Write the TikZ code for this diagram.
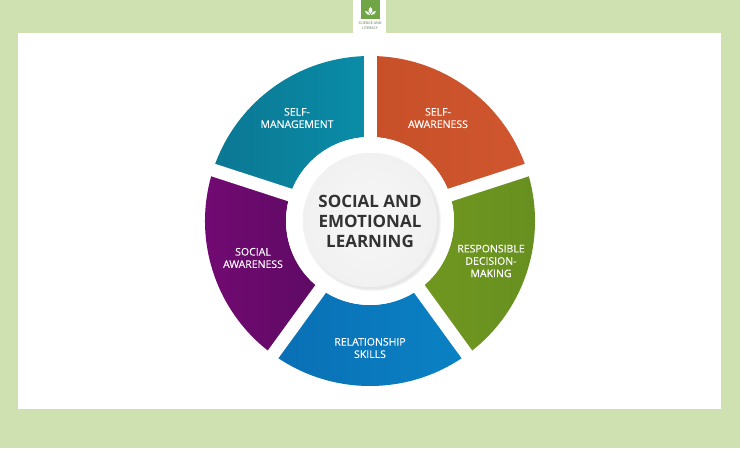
\documentclass[tikz,border=0pt]{standalone}
\usepackage{fontspec}
\setmainfont{Open Sans}
\newfontfamily\seglabelfont[FakeBold=0.2]{Open Sans}
\usetikzlibrary{positioning}
\definecolor{pagegreen}{HTML}{CFE0B1}
\definecolor{leafgreen}{HTML}{6FA544}
\definecolor{logotext}{HTML}{5A6A55}
\definecolor{orangeA}{HTML}{C85029}
\definecolor{orangeB}{HTML}{CF562F}
\definecolor{greenA}{HTML}{70971F}
\definecolor{greenB}{HTML}{668F20}
\definecolor{blueA}{HTML}{0A6FB5}
\definecolor{blueB}{HTML}{0A82C4}
\definecolor{purpleA}{HTML}{740A74}
\definecolor{purpleB}{HTML}{5E0A64}
\definecolor{tealA}{HTML}{0B7793}
\definecolor{tealB}{HTML}{0A8DA8}
\definecolor{discdark}{HTML}{F1F1F1}
\definecolor{disclight}{HTML}{F7F7F7}
\definecolor{titletext}{HTML}{333333}
\tikzset{seglabel/.style={align=center,text=white,font=\seglabelfont\fontsize{10.5}{12.4}\selectfont},
	 titlelabel/.style={align=center,text=titletext,font=\fontsize{17}{20}\selectfont\bfseries},
	 logolabel/.style={align=center,text=logotext,font=\fontsize{3.6}{4.6}\selectfont}
	 }

\begin{document}
\begin{tikzpicture}[x=1pt,y=1pt]
	\useasboundingbox (0,0) rectangle (740,448);
	\fill[pagegreen] (0,0) rectangle (740,448);
	\fill[white] (18,39) rectangle (721,415);
	\fill[white] (353,415) rectangle (386,448);
	\fill[leafgreen] (361,429) rectangle (380,448);
	% logo leaves
	\fill[white] (370.5,441) .. controls (367.5,438) and (368.5,436) .. (370.5,434) .. controls (372.5,436) and (373.5,438) .. (370.5,441);
	\fill[white] (365,437) .. controls (365.5,434) and (367.5,433) .. (370,433) .. controls (369.5,436) and (367.5,437) .. (365,437);
	\fill[white] (376,437) .. controls (375.5,434) and (373.5,433) .. (371,433) .. controls (371.5,436) and (373.5,437) .. (376,437);
	\node[logolabel] (logotxt) at (370,422) {SCIENCE AND\\LITERACY};

	\coordinate (ctr) at (370,227);
	\coordinate (discctr) at (370,228);
	% ring of five parts
	\foreach \from/\to/\ca/\cb in {90/18/orangeA/orangeB,18/-54/greenA/greenB,-54/-126/blueA/blueB,-126/-198/purpleA/purpleB,-198/-270/tealA/tealB}{
		\shade[left color=\ca,right color=\cb] ([shift={(ctr)}]\from:165) arc[start angle=\from,end angle=\to,radius=165pt] -- ([shift={(ctr)}]\to:84) arc[start angle=\to,end angle=\from,radius=84pt] -- cycle;
	}
	% gaps
	\foreach \ang in {90,18,-54,-126,162}{
		\draw[white,line width=13pt] (ctr) -- ([shift={(ctr)}]\ang:172);
	}
	\fill[white] (ctr) circle (84);
	% soft shadow of the disc
	\foreach \rad in {69.5,69,68.5,68,67.5,67}{
		\fill[black,opacity=0.016] ([shift={(2,-2)}]discctr) circle (\rad);
	}
	\shade[inner color=disclight,outer color=discdark] (discctr) circle (67);

	\node[titlelabel] (title) at (370,227) {SOCIAL AND\\EMOTIONAL\\LEARNING};
	\node[seglabel] (selfaware) at (438,330) {SELF-\\AWARENESS};
	\node[seglabel] (decision) at (491,187) {RESPONSIBLE\\DECISION-\\MAKING};
	\node[seglabel] (relation) at (370,100) {RELATIONSHIP\\SKILLS};
	\node[seglabel] (socialaw) at (253,190) {SOCIAL\\AWARENESS};
	\node[seglabel] (selfman) at (297,330) {SELF-\\MANAGEMENT};
\end{tikzpicture}
\end{document}
